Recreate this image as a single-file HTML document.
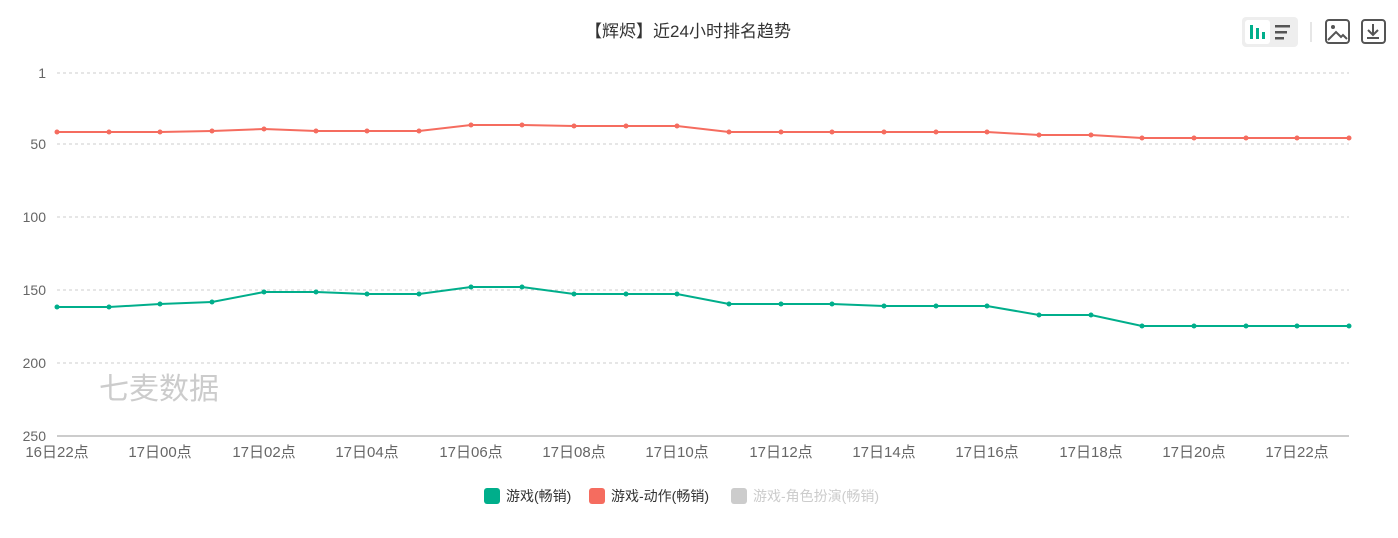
<!DOCTYPE html>
<html><head><meta charset="utf-8"><style>
body{margin:0;background:#fff;font-family:"Liberation Sans","Noto Sans CJK SC",sans-serif;}
</style></head><body>
<svg width="1398" height="538" xmlns="http://www.w3.org/2000/svg" style="display:block;font-family:'Liberation Sans','Noto Sans CJK SC',sans-serif">
<rect width="1398" height="538" fill="#fff"/>
<text x="688" y="37" text-anchor="middle" font-size="17" fill="#333">【辉烬】近24小时排名趋势</text>
<rect x="1242" y="17" width="56" height="30" rx="4" fill="#eee"/>
<rect x="1245" y="20" width="25" height="24" rx="3" fill="#fff"/>
<rect x="1250" y="25" width="3" height="14" fill="#00ae8b"/><rect x="1256" y="28" width="3" height="11" fill="#00ae8b"/><rect x="1262" y="32" width="3" height="7" fill="#00ae8b"/>
<rect x="1275" y="25" width="15" height="2.5" fill="#555"/><rect x="1275" y="31" width="12" height="2.5" fill="#555"/><rect x="1275" y="37" width="9" height="2.5" fill="#555"/>
<line x1="1311" y1="22" x2="1311" y2="42" stroke="#ccc"/>
<rect x="1326" y="20" width="23" height="23" rx="3" fill="none" stroke="#555" stroke-width="2"/>
<circle cx="1333" cy="27" r="2" fill="#555"/><path d="M1328 40 L1336 32 L1341 37 L1343 35 L1347 39" fill="none" stroke="#555" stroke-width="2"/>
<rect x="1362" y="20" width="23" height="23" rx="3" fill="none" stroke="#555" stroke-width="2"/>
<path d="M1373 24 V35 M1368 30 L1373 35 L1378 30 M1367 38 H1379" fill="none" stroke="#555" stroke-width="2"/>
<g stroke="#ccc" stroke-dasharray="3,3">
<line x1="57" y1="73" x2="1349" y2="73"/><line x1="57" y1="144" x2="1349" y2="144"/><line x1="57" y1="217" x2="1349" y2="217"/><line x1="57" y1="290" x2="1349" y2="290"/><line x1="57" y1="363" x2="1349" y2="363"/>
</g>
<line x1="57" y1="436" x2="1349" y2="436" stroke="#999"/>
<g font-size="14" fill="#666" text-anchor="end">
<text x="46" y="78">1</text><text x="46" y="149">50</text><text x="46" y="222">100</text><text x="46" y="295">150</text><text x="46" y="368">200</text><text x="46" y="441">250</text>
</g>
<g font-size="15" fill="#666" text-anchor="middle">
<text x="57" y="457">16日22点</text><text x="160" y="457">17日00点</text><text x="264" y="457">17日02点</text><text x="367" y="457">17日04点</text><text x="471" y="457">17日06点</text><text x="574" y="457">17日08点</text><text x="677" y="457">17日10点</text><text x="781" y="457">17日12点</text><text x="884" y="457">17日14点</text><text x="987" y="457">17日16点</text><text x="1091" y="457">17日18点</text><text x="1194" y="457">17日20点</text><text x="1297" y="457">17日22点</text>
</g>
<text x="99" y="399" font-size="30" fill="#ccc">七麦数据</text>
<polyline fill="none" stroke="#00ae8b" stroke-width="2" points="57,307 109,307 160,304 212,302 264,292 316,292 367,294 419,294 471,287 522,287 574,294 626,294 677,294 729,304 781,304 832,304 884,306 936,306 987,306 1039,315 1091,315 1142,326 1194,326 1246,326 1297,326 1349,326"/>
<polyline fill="none" stroke="#f56c5f" stroke-width="2" points="57,132 109,132 160,132 212,131 264,129 316,131 367,131 419,131 471,125 522,125 574,126 626,126 677,126 729,132 781,132 832,132 884,132 936,132 987,132 1039,135 1091,135 1142,138 1194,138 1246,138 1297,138 1349,138"/>
<g fill="#00ae8b">
<circle cx="57" cy="307" r="2.5"/><circle cx="109" cy="307" r="2.5"/><circle cx="160" cy="304" r="2.5"/><circle cx="212" cy="302" r="2.5"/><circle cx="264" cy="292" r="2.5"/><circle cx="316" cy="292" r="2.5"/><circle cx="367" cy="294" r="2.5"/><circle cx="419" cy="294" r="2.5"/><circle cx="471" cy="287" r="2.5"/><circle cx="522" cy="287" r="2.5"/><circle cx="574" cy="294" r="2.5"/><circle cx="626" cy="294" r="2.5"/><circle cx="677" cy="294" r="2.5"/><circle cx="729" cy="304" r="2.5"/><circle cx="781" cy="304" r="2.5"/><circle cx="832" cy="304" r="2.5"/><circle cx="884" cy="306" r="2.5"/><circle cx="936" cy="306" r="2.5"/><circle cx="987" cy="306" r="2.5"/><circle cx="1039" cy="315" r="2.5"/><circle cx="1091" cy="315" r="2.5"/><circle cx="1142" cy="326" r="2.5"/><circle cx="1194" cy="326" r="2.5"/><circle cx="1246" cy="326" r="2.5"/><circle cx="1297" cy="326" r="2.5"/><circle cx="1349" cy="326" r="2.5"/>
</g>
<g fill="#f56c5f">
<circle cx="57" cy="132" r="2.5"/><circle cx="109" cy="132" r="2.5"/><circle cx="160" cy="132" r="2.5"/><circle cx="212" cy="131" r="2.5"/><circle cx="264" cy="129" r="2.5"/><circle cx="316" cy="131" r="2.5"/><circle cx="367" cy="131" r="2.5"/><circle cx="419" cy="131" r="2.5"/><circle cx="471" cy="125" r="2.5"/><circle cx="522" cy="125" r="2.5"/><circle cx="574" cy="126" r="2.5"/><circle cx="626" cy="126" r="2.5"/><circle cx="677" cy="126" r="2.5"/><circle cx="729" cy="132" r="2.5"/><circle cx="781" cy="132" r="2.5"/><circle cx="832" cy="132" r="2.5"/><circle cx="884" cy="132" r="2.5"/><circle cx="936" cy="132" r="2.5"/><circle cx="987" cy="132" r="2.5"/><circle cx="1039" cy="135" r="2.5"/><circle cx="1091" cy="135" r="2.5"/><circle cx="1142" cy="138" r="2.5"/><circle cx="1194" cy="138" r="2.5"/><circle cx="1246" cy="138" r="2.5"/><circle cx="1297" cy="138" r="2.5"/><circle cx="1349" cy="138" r="2.5"/>
</g>
<rect x="484" y="488" width="16" height="16" rx="3" fill="#00ae8b"/>
<text x="506" y="501" font-size="14" fill="#333">游戏(畅销)</text>
<rect x="589" y="488" width="16" height="16" rx="3" fill="#f56c5f"/>
<text x="611" y="501" font-size="14" fill="#333">游戏-动作(畅销)</text>
<rect x="731" y="488" width="16" height="16" rx="3" fill="#ccc"/>
<text x="753" y="501" font-size="14" fill="#ccc">游戏-角色扮演(畅销)</text>
</svg>
</body></html>
